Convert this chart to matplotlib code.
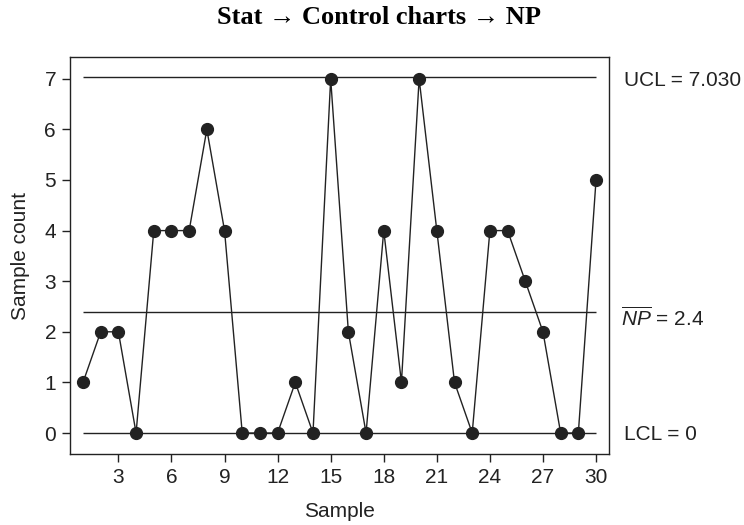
import matplotlib
matplotlib.use('Agg')
import matplotlib.pyplot as plt
import matplotlib.transforms as mtransforms

# sample counts
samples = list(range(1, 31))
counts = [1, 2, 2, 0, 4, 4, 4, 6, 4, 0,
          0, 0, 1, 0, 7, 2, 0, 4, 1, 7,
          4, 1, 0, 4, 4, 3, 2, 0, 0, 5]
ucl = 7.030
center = 2.4
lcl = 0
xticks = [3, 6, 9, 12, 15, 18, 21, 24, 27, 30]
yticks = [0, 1, 2, 3, 4, 5, 6, 7]

plt.rcParams['font.family'] = ['Liberation Sans', 'DejaVu Sans']
plt.rcParams['mathtext.fontset'] = 'custom'
plt.rcParams['mathtext.rm'] = 'Liberation Sans'
plt.rcParams['mathtext.it'] = 'Liberation Sans:italic'
ink = '#222222'
fs = 15

fig = plt.figure(figsize=(7.44, 5.25), dpi=100)
ax = fig.add_axes([0.0941, 0.1352, 0.7245, 0.7562])

for lvl in [ucl, center, lcl]:
    ax.hlines(lvl, samples[0], samples[-1], color=ink, linewidth=1.0, zorder=1)

ax.plot(samples, counts, color=ink, linewidth=1.0, marker='o', markersize=8.5,
        markerfacecolor=ink, markeredgecolor=ink, zorder=3)

ax.set_xlim(0.265, 30.735)
ax.set_ylim(-0.415, 7.43)
ax.set_xticks(xticks)
ax.set_yticks(yticks)
ax.tick_params(direction='out', length=6, width=1, colors=ink, labelsize=fs, pad=4)
for s in ax.spines.values():
    s.set_color(ink)
    s.set_linewidth(1.0)

ax.set_xlabel('Sample', fontsize=fs, color=ink, labelpad=11)
ax.set_ylabel('Sample count', fontsize=fs, color=ink, labelpad=10)

trans = mtransforms.blended_transform_factory(ax.transAxes, ax.transData)
ax.text(1.028, 6.85, 'UCL = 7.030', transform=trans, ha='left', va='baseline',
        fontsize=fs, color=ink)
ax.text(1.023, 2.12, r'$\overline{NP}$ = 2.4', transform=trans, ha='left',
        va='baseline', fontsize=fs, color=ink)
ax.text(1.028, -0.13, 'LCL = 0', transform=trans, ha='left', va='baseline',
        fontsize=fs, color=ink)

fig.text(0.51, 0.966, 'Stat \u2192 Control charts \u2192 NP', ha='center', va='center',
         fontsize=19, fontweight='bold', family='Liberation Serif', color='black')

fig.savefig('out.png', dpi=100)
